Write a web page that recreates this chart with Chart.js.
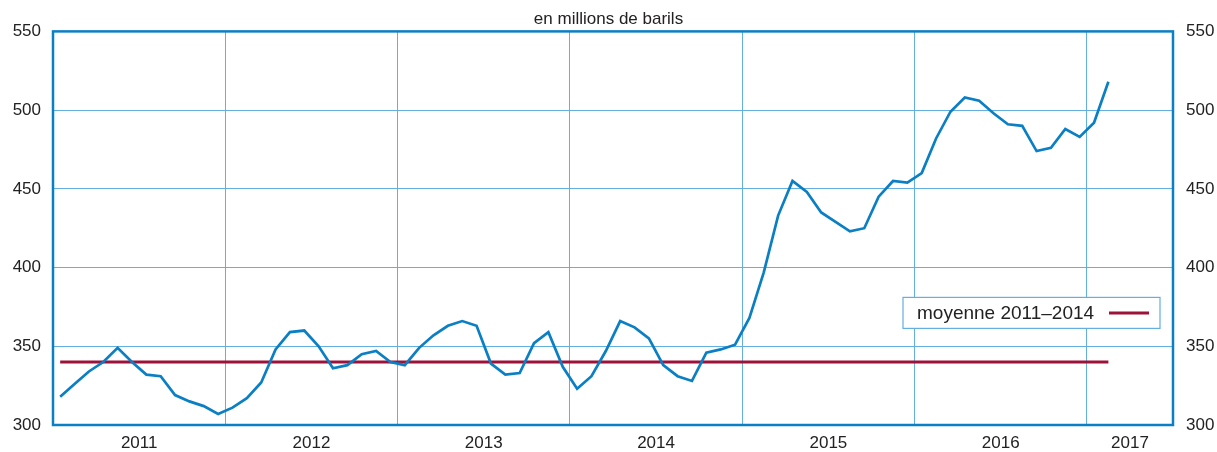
<!DOCTYPE html>
<html lang="fr">
<head>
<meta charset="utf-8">
<title>Stocks en millions de barils</title>
<script src="https://cdn.jsdelivr.net/npm/chart.js@4.4.1/dist/chart.umd.min.js"></script>
<style>
  html, body { margin: 0; padding: 0; background: #fff; }
  #wrap { width: 1217px; height: 452px; }
</style>
</head>
<body>
<div id="wrap"><canvas id="stockChart"></canvas></div>
<script>
"use strict";

// Années (étiquettes de l'axe x)
const years = ["2011", "2012", "2013", "2014", "2015", "2016", "2017"];

// Stocks mensuels, janvier 2011 - février 2017
const stocks = [
    318, 326, 334, 340, 349, 340, 332, 331, 319, 315, 312, 307,
    311, 317, 327, 348, 359, 360, 350, 336, 338, 345, 347, 340,
    338, 349, 357, 363, 366, 363, 339, 332, 333, 352, 359, 337,
    323, 331, 347, 366, 362, 355, 338, 331, 328, 346, 348, 351,
    368, 397, 433, 455, 448, 435, 429, 423, 425, 445, 455, 454,
    460, 482, 499, 508, 506, 498, 491, 490, 474, 476, 488, 483,
    492, 518
];

// Moyenne 2011-2014
const average = [340];
const legendLabel = "moyenne 2011\u20132014";
const title = "en millions de barils";

const blue = "#0b7fc4";
const gridBlue = "#62afe0";
const red = "#9c1239";

/**
 * Cadre bleu autour de la zone du graphique + légende dans la zone
 */
const framePlugin = {
    id: "frame",
    beforeDatasetsDraw(chart){
        const a = chart.chartArea;
        const ctx = chart.ctx;
        ctx.save();
        ctx.strokeStyle = blue;
        ctx.lineWidth = 2.5;
        ctx.strokeRect(a.left, a.top, a.right - a.left, a.bottom - a.top);
        ctx.restore();
    },
    afterDraw(chart){
        const a = chart.chartArea;
        const ctx = chart.ctx;
        const x = a.right - 270, y = a.top + 266, w = 257, h = 31;
        ctx.save();
        ctx.fillStyle = "#fff";
        ctx.fillRect(x, y, w, h);
        ctx.strokeStyle = gridBlue;
        ctx.lineWidth = 1.2;
        ctx.strokeRect(x, y, w, h);
        ctx.fillStyle = "#222";
        ctx.font = "19px 'Liberation Sans', Arial, sans-serif";
        ctx.textBaseline = "middle";
        ctx.fillText(legendLabel, x + 14, y + h / 2 + 1);
        ctx.strokeStyle = red;
        ctx.lineWidth = 3;
        ctx.beginPath();
        ctx.moveTo(x + 206, y + h / 2);
        ctx.lineTo(x + 246, y + h / 2);
        ctx.stroke();
        ctx.restore();
    }
};

const font = { family: "'Liberation Sans', Arial, sans-serif", size: 17 };

new Chart(document.getElementById("stockChart"), {
    type: "line",
    data: {
        datasets: [
            {
                label: "stocks",
                data: stocks.map((v, i) => ({ x: i + 0.5, y: v })),
                borderColor: blue,
                borderWidth: 2.7,
                pointRadius: 0,
                tension: 0,
                yAxisID: "y"
            },
            {
                label: legendLabel,
                data: [{ x: 0.5, y: average[0] }, { x: stocks.length - 0.5, y: average[0] }],
                borderColor: red,
                borderWidth: 3,
                pointRadius: 0,
                yAxisID: "y"
            }
        ]
    },
    options: {
        responsive: true,
        maintainAspectRatio: false,
        animation: false,
        layout: { padding: 0 },
        plugins: {
            legend: { display: false },
            tooltip: { enabled: false },
            title: {
                display: true,
                text: title,
                color: "#222",
                font: { family: font.family, size: 17, weight: "normal" },
                padding: { top: 9, bottom: 2 }
            }
        },
        scales: {
            x: {
                type: "linear",
                min: 0,
                max: 78,
                afterBuildTicks(scale){
                    const t = [];
                    for(let v = 0; v <= 72; v += 6){ t.push({ value: v }); }
                    t.push({ value: 75 }, { value: 78 });
                    scale.ticks = t;
                },
                afterFit(scale){ scale.height = 27; },
                border: { display: false },
                grid: {
                    drawTicks: false,
                    lineWidth: 1,
                    color: (c) => (c.tick && c.tick.value % 12 === 0 && c.tick.value > 0 && c.tick.value < 78) ? gridBlue : "rgba(0,0,0,0)"
                },
                ticks: {
                    autoSkip: false,
                    maxRotation: 0,
                    padding: 8,
                    color: "#222",
                    font: font,
                    callback: (v) => {
                        if(v < 72 && v % 12 === 6){ return years[(v - 6) / 12]; }
                        if(v === 75){ return years[6]; }
                        return "";
                    }
                }
            },
            y: {
                position: "left",
                min: 300,
                max: 550,
                afterFit(scale){ scale.width = 53; },
                border: { display: false },
                grid: {
                    drawTicks: false,
                    lineWidth: 1,
                    color: (c) => (c.tick && (c.tick.value === 300 || c.tick.value === 550)) ? "rgba(0,0,0,0)" : gridBlue
                },
                ticks: { stepSize: 50, padding: 12, color: "#222", font: font }
            },
            y2: {
                position: "right",
                min: 300,
                max: 550,
                afterFit(scale){ scale.width = 44; },
                border: { display: false },
                grid: { display: false, drawTicks: false },
                ticks: { stepSize: 50, padding: 13, color: "#222", font: font }
            }
        }
    },
    plugins: [framePlugin]
});
</script>
</body>
</html>
